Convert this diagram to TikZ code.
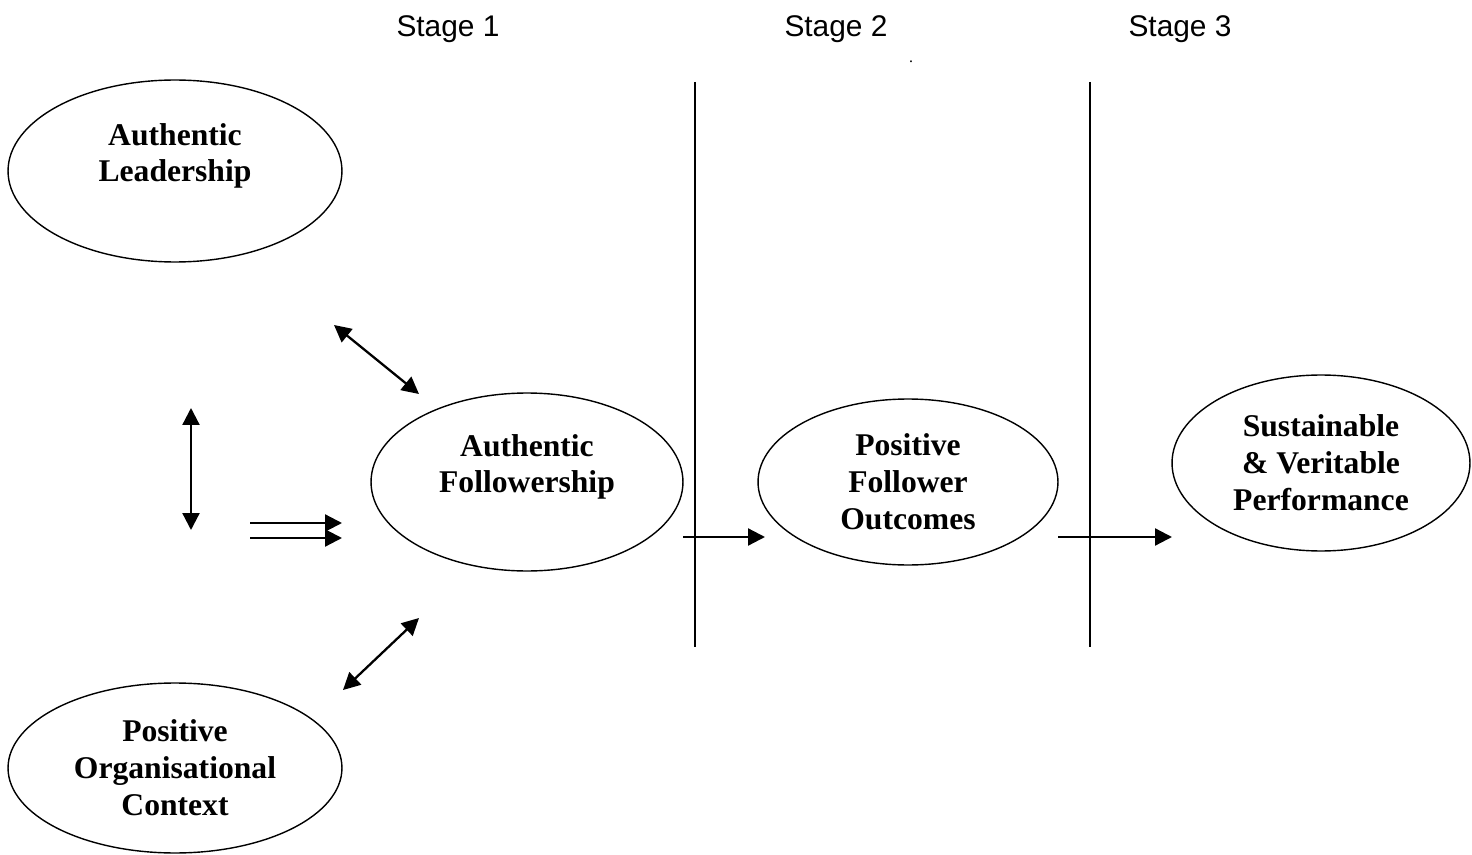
\documentclass[tikz,border=0pt]{standalone}
\usepackage{fontspec}
\setmainfont{Liberation Serif}
\newfontfamily\stagefont{Liberation Sans}
\usepackage{tikz}
\usetikzlibrary{arrows.meta,shapes.geometric}
\tikzset{
  stageellipse/.style={
    ellipse,
    draw=black,
    line width=0.8pt,
    align=center,
    inner sep=0pt,
    font=\fontsize{18}{21}\selectfont\bfseries
  },
  stagelabel/.style={
    font=\stagefont\fontsize{17}{20}\selectfont
  },
  stageline/.style={
    draw=black,
    line width=0.8pt
  },
  linkarrow/.style={
    -{Triangle[length=0.34cm,width=0.34cm]},
    line width=1.3pt,
    draw=black
  },
  botharrow/.style={
    {Triangle[length=0.34cm,width=0.34cm]}-{Triangle[length=0.34cm,width=0.34cm]},
    line width=1.3pt,
    draw=black
  }
}
\begin{document}
\begin{tikzpicture}[x=0.02cm,y=-0.02cm]
\useasboundingbox (0,0) rectangle (1472,855);

% stage headings
\node[stagelabel] (stage1) at (448,29) {Stage 1};
\node[stagelabel] (stage2) at (836,29) {Stage 2};
\node[stagelabel] (stage3) at (1180,29) {Stage 3};
\node[font=\small] (dot) at (911,62) {.};

% concepts
\node[stageellipse, minimum width=6.68cm, minimum height=3.64cm] (leader) at (175,171) {Authentic\\Leadership\\\mbox{}};
\node[stageellipse, minimum width=6.68cm, minimum height=3.4cm] (context) at (175,768) {Positive\\Organisational\\Context};
\node[stageellipse, minimum width=6.24cm, minimum height=3.56cm] (follow) at (527,482) {Authentic\\Followership\\\mbox{}};
\node[stageellipse, minimum width=6.0cm, minimum height=3.32cm] (outcome) at (908,482) {Positive\\Follower\\Outcomes};
\node[stageellipse, minimum width=5.96cm, minimum height=3.52cm] (perform) at (1321,463) {Sustainable\\\& Veritable\\Performance};

% stage dividers
\coordinate (div1top) at (695,82);
\coordinate (div1bot) at (695,647);
\coordinate (div2top) at (1090,82);
\coordinate (div2bot) at (1090,647);
\draw[stageline] (div1top) -- (div1bot);
\draw[stageline] (div2top) -- (div2bot);

% free arrow ends
\coordinate (upA) at (334,325);
\coordinate (upB) at (419,394);
\coordinate (lowA) at (343,690);
\coordinate (lowB) at (419,618);
\coordinate (vertA) at (191,408);
\coordinate (vertB) at (191,530);
\coordinate (dblA1) at (250,523);
\coordinate (dblB1) at (342,523);
\coordinate (dblA2) at (250,538);
\coordinate (dblB2) at (342,538);
\coordinate (out1) at (683,537);
\coordinate (in2) at (765,537);
\coordinate (out2) at (1058,537);
\coordinate (in3) at (1172,537);

\draw[botharrow] (upA) -- (upB);
\draw[botharrow] (lowA) -- (lowB);
\draw[botharrow] (vertA) -- (vertB);
\draw[linkarrow] (dblA1) -- (dblB1);
\draw[linkarrow] (dblA2) -- (dblB2);
\draw[linkarrow] (out1) -- (in2);
\draw[linkarrow] (out2) -- (in3);
\end{tikzpicture}
\end{document}
